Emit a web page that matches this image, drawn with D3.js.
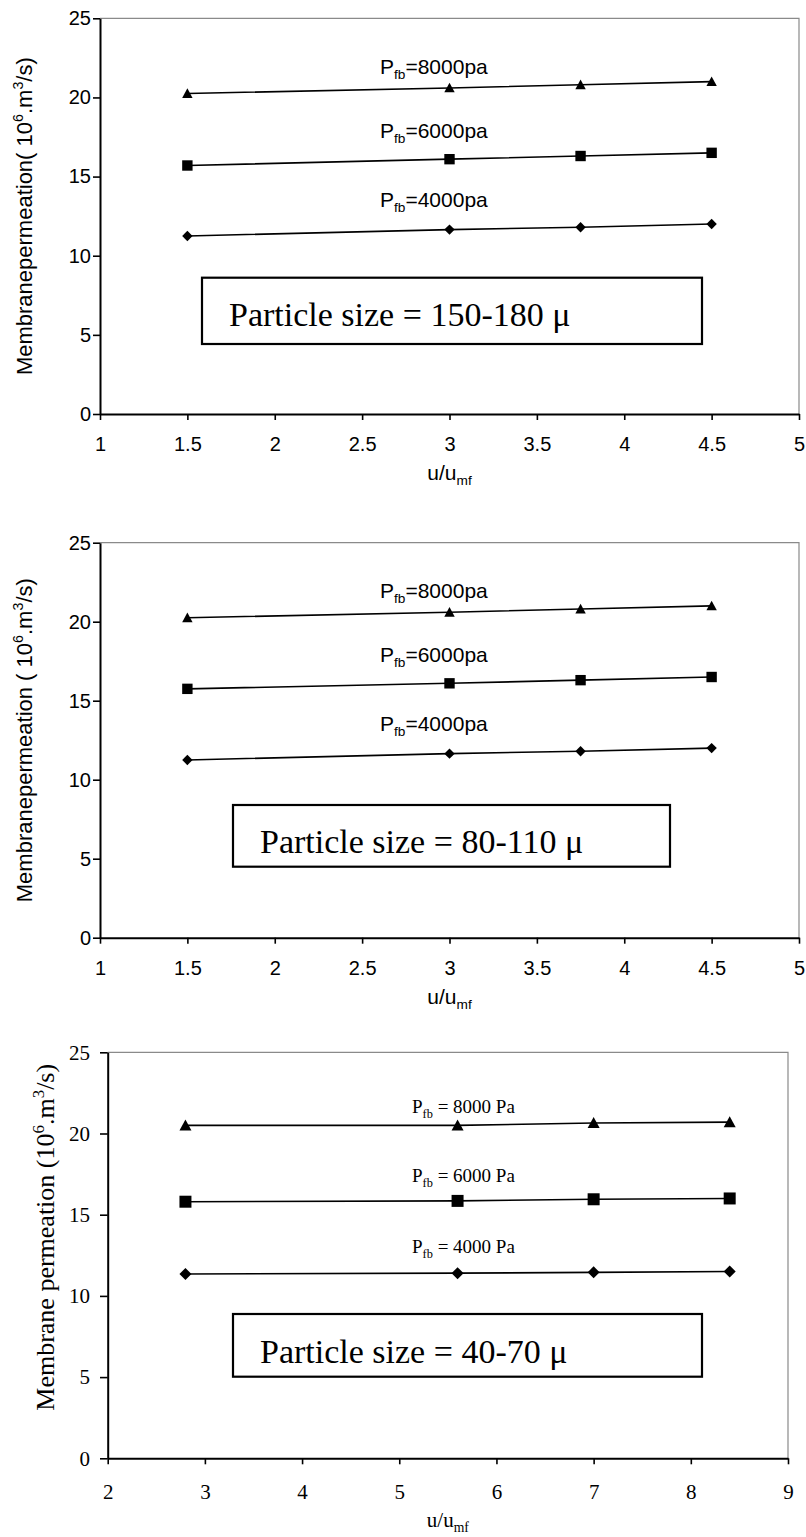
<!DOCTYPE html>
<html>
<head>
<meta charset="utf-8">
<script src="https://cdn.jsdelivr.net/npm/d3@7"></script>
<style>
body { margin: 0; background: #fff; }
</style>
</head>
<body>
<div class="canvas"></div>
<script>
// values

const uRatioA = [1.5, 3, 3.75, 4.5];   // panels 1 and 2
const uRatioB = [2.8, 5.6, 7, 8.4];    // panel 3

// particle size 150-180
const p150_8000 = [20.25, 20.6, 20.8, 21.0];
const p150_6000 = [15.7, 16.1, 16.3, 16.5];
const p150_4000 = [11.25, 11.65, 11.8, 12.0];

// particle size 80-110
const p80_8000 = [20.25, 20.6, 20.8, 21.0];
const p80_6000 = [15.75, 16.1, 16.3, 16.5];
const p80_4000 = [11.25, 11.65, 11.8, 12.0];

// particle size 40-70
const p40_8000 = [20.5, 20.5, 20.65, 20.7];
const p40_6000 = [15.8, 15.85, 15.95, 16.0];
const p40_4000 = [11.35, 11.4, 11.45, 11.5];

const xTicksA = [1, 1.5, 2, 2.5, 3, 3.5, 4, 4.5, 5];
const xTicksB = [2, 3, 4, 5, 6, 7, 8, 9];
const yTicks = [0, 5, 10, 15, 20, 25];

const pressures = ['8000', '6000', '4000'];
const sizes = ['150-180', '80-110', '40-70'];

const SANS = '"Liberation Sans", Arial, sans-serif';
const SERIF = '"Liberation Serif", "Times New Roman", serif';

// panel layouts
const panels = [
  {
    left: 100, right: 799, top: 18.3, bottom: 414,
    xDomain: [1, 5], xTicks: xTicksA, xs: uRatioA,
    series: [p150_8000, p150_6000, p150_4000],
    size: sizes[0], font: SANS, excel: true,
    tickFont: 20, yLabelGap: 2, yTickLen: 7, xLabelBase: 37,
    labelX: 380, labelBase: [55.7, 119.7, 188.7], labelFont: 21,
    box: {x0: 202, x1: 702, y0: 277.7, y1: 344, tx: 229, base: 326},
    xTitleBase: 480, xTitleFont: 21,
    yTitleX: 32, yTitleFont: 22, yTitleShift: 0, yTitleGap: '',
    marker: 5.2
  },
  {
    left: 100, right: 799, top: 542.7, bottom: 937.7,
    xDomain: [1, 5], xTicks: xTicksA, xs: uRatioA,
    series: [p80_8000, p80_6000, p80_4000],
    size: sizes[1], font: SANS, excel: true,
    tickFont: 20, yLabelGap: 2, yTickLen: 7, xLabelBase: 37,
    labelX: 380, labelBase: [55.7, 119.7, 188.7], labelFont: 21,
    box: {x0: 233, x1: 670, y0: 805, y1: 866.7, tx: 260, base: 852.7},
    xTitleBase: 1004, xTitleFont: 21,
    yTitleX: 32, yTitleFont: 22, yTitleShift: 0, yTitleGap: ' ',
    marker: 5.2
  },
  {
    left: 107.7, right: 788, top: 1052.3, bottom: 1458.3,
    xDomain: [2, 9], xTicks: xTicksB, xs: uRatioB,
    series: [p40_8000, p40_6000, p40_4000],
    size: sizes[2], font: SERIF, excel: false,
    tickFont: 21, yLabelGap: 10, yTickLen: 7.7, xLabelBase: 41,
    labelX: 412, labelBase: [60.4, 129.4, 201], labelFont: 19,
    box: {x0: 233, x1: 702, y0: 1314, y1: 1376.7, tx: 260, base: 1362.7},
    xTitleBase: 1527, xTitleFont: 21,
    yTitleX: 54, yTitleFont: 26, yTitleShift: -18, yTitleGap: ' ',
    marker: 6
  }
];

const svg = d3.select('.canvas')
  .append('svg')
  .attr('width', 806)
  .attr('height', 1537)
  .style('display', 'block');

// marker paths, centred on 0,0
const markerPath = (shape, r) => {
  if (shape === 'triangle') return `M0,${-r}L${r},${r * 0.85}L${-r},${r * 0.85}Z`;
  if (shape === 'square') return `M${-r},${-r}H${r}V${r}H${-r}Z`;
  return `M0,${-r}L${r},0L0,${r}L${-r},0Z`;
};
const shapes = ['triangle', 'square', 'diamond'];

panels.forEach(p => {
  const x = d3.scaleLinear().domain(p.xDomain).range([p.left, p.right]);
  const y = d3.scaleLinear().domain([0, 25]).range([p.bottom, p.top]);

  const g = svg.append('g');

  // grey frame on top and right
  g.append('path')
    .attr('d', `M${p.left},${p.top}H${p.right}V${p.bottom}`)
    .attr('fill', 'none')
    .attr('stroke', '#8a8a8a')
    .attr('stroke-width', 1.2);

  // axes
  const yAxis = d3.axisLeft(y).tickValues(yTicks).tickSize(p.yTickLen).tickSizeOuter(0).tickPadding(p.yLabelGap);
  const xAxis = d3.axisBottom(x).tickValues(p.xTicks).tickSize(6).tickSizeOuter(0).tickFormat(d => String(d));

  const yG = g.append('g').attr('transform', `translate(${p.left},0)`).call(yAxis);
  const xG = g.append('g').attr('transform', `translate(0,${p.bottom})`).call(xAxis);

  [yG, xG].forEach(a => {
    a.select('.domain').attr('stroke', '#000').attr('stroke-width', 2);
    a.selectAll('.tick line').attr('stroke', '#000').attr('stroke-width', 1.6);
    a.selectAll('text')
      .attr('fill', '#000')
      .style('font-family', p.font)
      .style('font-size', p.tickFont + 'px');
  });
  xG.selectAll('text').attr('y', p.xLabelBase).attr('dy', 0);

  // series lines and markers
  p.series.forEach((vals, i) => {
    const pts = vals.map((v, k) => ({u: p.xs[k], v: v}));
    const line = d3.line().x(d => x(d.u)).y(d => y(d.v));

    g.append('path')
      .datum(pts)
      .attr('d', line)
      .attr('fill', 'none')
      .attr('stroke', '#000')
      .attr('stroke-width', 1.6);

    g.selectAll(null)
      .data(pts)
      .enter()
      .append('path')
      .attr('d', markerPath(shapes[i], p.marker))
      .attr('transform', d => `translate(${x(d.u)},${y(d.v)})`)
      .attr('fill', '#000');

    // pressure label
    const t = g.append('text')
      .attr('x', p.labelX)
      .attr('y', p.top + p.labelBase[i])
      .style('font-family', p.font)
      .style('font-size', p.labelFont + 'px');
    t.append('tspan').text('P');
    t.append('tspan').attr('dy', 5).style('font-size', (p.labelFont * 0.65) + 'px').text('fb');
    t.append('tspan').attr('dy', -5)
      .text(p.excel ? `=${pressures[i]}pa` : ` = ${pressures[i]} Pa`);
  });

  // particle size box
  g.append('rect')
    .attr('x', p.box.x0)
    .attr('y', p.box.y0)
    .attr('width', p.box.x1 - p.box.x0)
    .attr('height', p.box.y1 - p.box.y0)
    .attr('fill', '#fff')
    .attr('stroke', '#000')
    .attr('stroke-width', 2.2);
  g.append('text')
    .attr('x', p.box.tx)
    .attr('y', p.box.base)
    .style('font-family', SERIF)
    .style('font-size', '34px')
    .text(`Particle size = ${p.size} \u03bc`);

  // x title
  const xt = g.append('text')
    .attr('x', (p.left + p.right) / 2)
    .attr('y', p.xTitleBase)
    .attr('text-anchor', 'middle')
    .style('font-family', p.font)
    .style('font-size', p.xTitleFont + 'px');
  xt.append('tspan').text('u/u');
  xt.append('tspan').attr('dy', 5).style('font-size', (p.xTitleFont * 0.65) + 'px').text('mf');

  // y title
  const yt = g.append('text')
    .attr('transform', `translate(${p.yTitleX},${(p.top + p.bottom) / 2 + p.yTitleShift}) rotate(-90)`)
    .attr('text-anchor', 'middle')
    .style('font-family', p.font)
    .style('font-size', p.yTitleFont + 'px');
  const supSize = (p.yTitleFont * 0.65) + 'px';
  const lift = Math.round(p.yTitleFont * 0.4);
  if (p.excel) {
    yt.append('tspan').text(`Membranepermeation${p.yTitleGap}( 10`);
  } else {
    yt.append('tspan').text('Membrane permeation (10');
  }
  yt.append('tspan').attr('dy', -lift).style('font-size', supSize).text('6');
  yt.append('tspan').attr('dy', lift).text('.m');
  yt.append('tspan').attr('dy', -lift).style('font-size', supSize).text('3');
  yt.append('tspan').attr('dy', lift).text('/s)');
});
</script>
</body>
</html>
